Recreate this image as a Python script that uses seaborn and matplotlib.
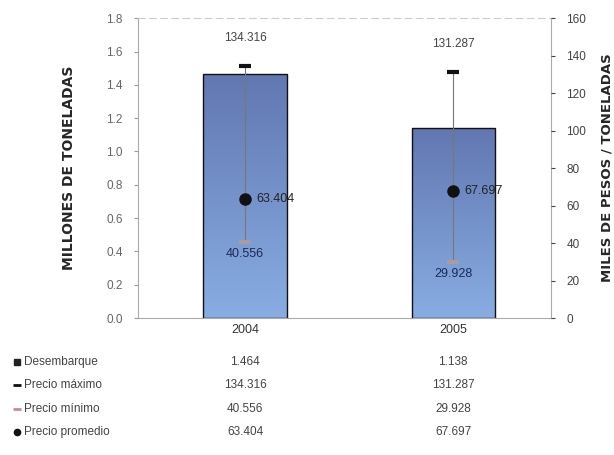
import numpy as np
import pandas as pd
import matplotlib
matplotlib.use('Agg')
import matplotlib.pyplot as plt
import seaborn as sns

# datos
anios = ['2004', '2005']
desembarque = [1.464, 1.138]          # millones de toneladas
precio_max = [134.316, 131.287]       # miles de pesos / tonelada
precio_min = [40.556, 29.928]
precio_prom = [63.404, 67.697]
filas = ['Desembarque', 'Precio máximo', 'Precio mínimo', 'Precio promedio']

sns.set_style('white')
plt.rcParams['font.family'] = ['Liberation Sans', 'DejaVu Sans']

fig = plt.figure(figsize=(6.14, 4.55), dpi=100)
ax = fig.add_axes([0.2248, 0.301, 0.6726, 0.659])

df = pd.DataFrame({'anio': anios, 'desembarque': desembarque})
sns.barplot(data=df, x='anio', y='desembarque', ax=ax, width=0.4,
            color='#6f8fd0', edgecolor='#111111', linewidth=1.0, saturation=1)

# degradado azul dentro de cada barra
grad = np.linspace(0, 1, 256).reshape(-1, 1)
cmap = matplotlib.colors.LinearSegmentedColormap.from_list('azul', ['#88ade3', '#6277b2'])
for p in ax.patches:
    x0, y0 = p.get_x(), p.get_y()
    w, h = p.get_width(), p.get_height()
    im = ax.imshow(grad, extent=[x0, x0 + w, y0, y0 + h], origin='lower',
                   cmap=cmap, aspect='auto', zorder=p.get_zorder() - 0.1)
    im.set_clip_path(p)
    p.set_facecolor('none')

ax.set_xlim(-0.514, 1.47)
ax.set_ylim(0, 1.8)
ax.set_yticks(np.arange(0, 1.81, 0.2))
ax.set_yticklabels([f'{v:.1f}' for v in np.arange(0, 1.81, 0.2)], color='#666666', fontsize=8.5)
ax.set_xlabel('')
ax.set_ylabel('MILLONES DE TONELADAS', fontsize=10, fontweight='bold', labelpad=22,
              family=['DejaVu Sans'])
ax.tick_params(axis='x', labelsize=9, colors='#333333', length=0, pad=4)
ax.tick_params(axis='y', length=3, left=True, color='#999999', pad=8)
for s in ax.spines.values():
    s.set_color('#aaaaaa')
    s.set_linewidth(0.8)
ax.spines['top'].set_linestyle((0, (6, 4)))
ax.spines['top'].set_color('#cccccc')

# eje de precios
ax2 = ax.twinx()
ax2.set_ylim(0, 160)
ax2.set_yticks(range(0, 161, 20))
ax2.tick_params(axis='y', labelsize=8.5, colors='#444444', length=3, pad=8)
ax2.set_ylabel('MILES DE PESOS / TONELADAS', fontsize=9.5, fontweight='bold', labelpad=10,
               family=['DejaVu Sans'])
for s in ax2.spines.values():
    s.set_visible(False)

xs = np.arange(len(anios))
for i in xs:
    ax2.plot([i, i], [precio_min[i], precio_max[i]], color='#777777', lw=0.8, zorder=3)
ax2.plot(xs, precio_max, linestyle='none', marker='_', markersize=9, mew=3, color='#111111', zorder=4)
ax2.plot(xs, precio_min, linestyle='none', marker='_', markersize=9, mew=3, color='#a89ca0', zorder=4)
ax2.plot(xs, precio_prom, linestyle='none', marker='o', markersize=8, color='#111111', zorder=5)

for i in xs:
    ax2.annotate(f'{precio_max[i]:.3f}', (i, precio_max[i]), xytext=(0, 16), textcoords='offset points',
                 ha='center', va='bottom', fontsize=8.5, color='#444444')
    ax2.annotate(f'{precio_prom[i]:.3f}', (i, precio_prom[i]), xytext=(8, 0), textcoords='offset points',
                 ha='left', va='center', fontsize=9, color='#222222')
    ax2.annotate(f'{precio_min[i]:.3f}', (i, precio_min[i]), xytext=(0, -4), textcoords='offset points',
                 ha='center', va='top', fontsize=9, color='#1a2a55')

# tabla de datos bajo el grafico
valores = [desembarque, precio_max, precio_min, precio_prom]
simbolos = [('s', '#222222'), ('_', '#111111'), ('_', '#c58a9a'), ('o', '#111111')]
fila_y = [362, 385, 409, 432]
col_x = [ax.transData.transform((i, 0))[0] for i in xs]
W, H = 614, 455
for nombre, vals, (mk, col), yy in zip(filas, valores, simbolos, fila_y):
    yf = 1 - yy / H
    fig.lines.append(matplotlib.lines.Line2D([17 / W], [yf], marker=mk, markersize=4.5 if mk != '_' else 6,
                                             mew=2 if mk == '_' else 1, color=col,
                                             transform=fig.transFigure, figure=fig))
    fig.text(24 / W, yf, nombre, ha='left', va='center', fontsize=8.5, color='#444444')
    for i, v in enumerate(vals):
        fig.text(col_x[i] / W, yf, f'{v:.3f}', ha='center', va='center', fontsize=8.5, color='#444444')

fig.savefig('out.png', dpi=100)
